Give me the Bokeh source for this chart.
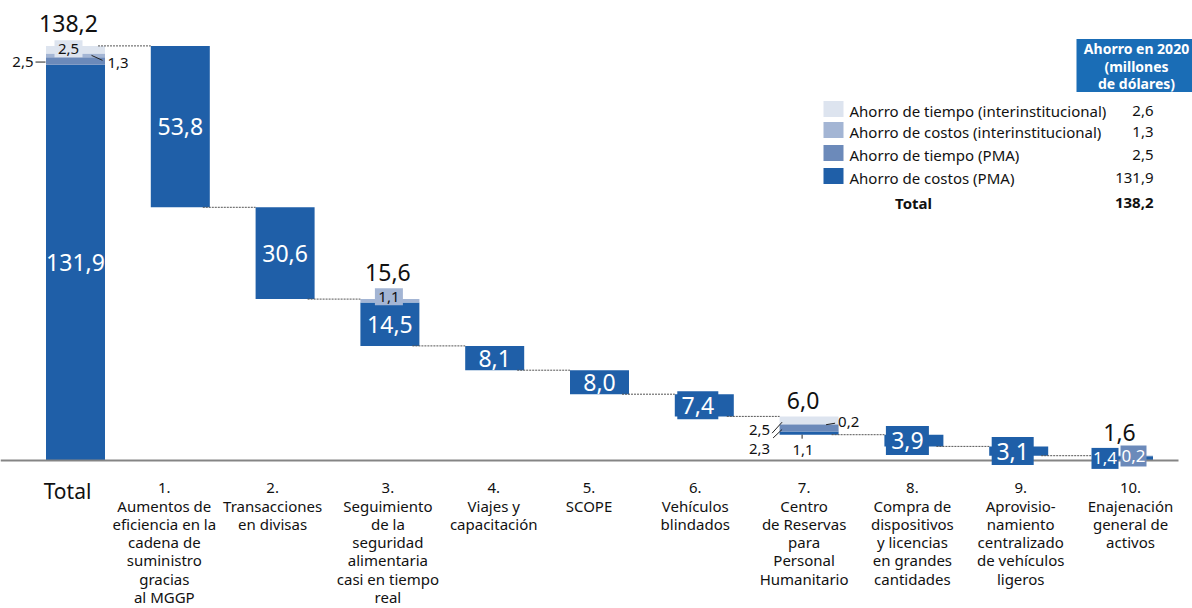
from bokeh.plotting import figure
from bokeh.models import Range1d
from bokeh.embed import file_html
from bokeh.resources import INLINE
from bokeh.core.properties import value

# ---------------- data ----------------
categories = ["Total", "1", "2", "3", "4", "5", "6", "7", "8", "9", "10"]
cat_labels = [
    "Total",
    "1.\nAumentos de\neficiencia en la\ncadena de\nsuministro\ngracias\nal MGGP",
    "2.\nTransacciones\nen divisas",
    "3.\nSeguimiento\nde la\nseguridad\nalimentaria\ncasi en tiempo\nreal",
    "4.\nViajes y\ncapacitación",
    "5.\nSCOPE",
    "6.\nVehículos\nblindados",
    "7.\nCentro\nde Reservas\npara\nPersonal\nHumanitario",
    "8.\nCompra de\ndispositivos\ny licencias\nen grandes\ncantidades",
    "9.\nAprovisio-\nnamiento\ncentralizado\nde vehículos\nligeros",
    "10.\nEnajenación\ngeneral de\nactivos",
]
cost_pma = [131.9, 53.8, 30.6, 14.5, 8.1, 8.0, 7.4, 1.1, 3.9, 3.1, 1.4]
time_pma = [2.5, 0, 0, 0, 0, 0, 0, 2.3, 0, 0, 0.2]
cost_inter = [1.3, 0, 0, 1.1, 0, 0, 0, 0.2, 0, 0, 0]
time_inter = [2.5, 0, 0, 0, 0, 0, 0, 2.5, 0, 0, 0]
shown_totals = [138.2, None, None, 15.6, None, None, None, 6.0, None, None, 1.6]

legend_labels = ["Ahorro de tiempo (interinstitucional)",
                 "Ahorro de costos (interinstitucional)",
                 "Ahorro de tiempo (PMA)",
                 "Ahorro de costos (PMA)"]
legend_values = [2.6, 1.3, 2.5, 131.9]
legend_total = 138.2
legend_header = ["Ahorro en 2020", "(millones", "de dólares)"]

# ---------------- style ----------------
FONT = "Noto Sans"
C_COST_PMA = "#1f5fa8"
C_TIME_PMA = "#6c8aba"
C_COST_INT = "#a3b5d4"
C_TIME_INT = "#dde4ef"
C_HEADER = "#1a6db6"
series = [cost_pma, time_pma, cost_inter, time_inter]
colors = [C_COST_PMA, C_TIME_PMA, C_COST_INT, C_TIME_INT]

W, H = 1192, 608
PX0, PXS = 75.0, 104.8      # pixel of category 0, pixels per category
PY0, PYS = 460.0, 3.0       # pixel of value 0, pixels per unit
BW = 59.0 / PXS


def X(px):
    return (px - PX0) / PXS


def Y(py):
    return (PY0 - py) / PYS


def PX(x):
    return PX0 + x * PXS


def PY(y):
    return PY0 - y * PYS


def fmt(v):
    return f"{v:.1f}".replace(".", ",")


p = figure(width=W, height=H, x_range=Range1d(X(0), X(W)), y_range=Range1d(Y(H), Y(0)),
           output_backend="svg", toolbar_location=None, min_border=0,
           x_axis_location=None, y_axis_location=None, outline_line_color=None)
p.grid.visible = False
p.background_fill_color = "white"
p.border_fill_color = "white"


def txt(xs, ys, texts, size, color="#111111", align="center", bold=False):
    p.text(x=xs, y=ys, text=texts, text_font=value(FONT), text_font_size=value(size),
           text_color=color, text_align=align, text_baseline="middle",
           text_font_style="bold" if bold else "normal")


def box(cx_px, cy_px, w_px, h_px, color):
    p.rect(x=[X(cx_px)], y=[Y(cy_px)], width=w_px / PXS, height=h_px / PYS,
           fill_color=color, line_color=None)


# ---------------- waterfall geometry ----------------
n = len(categories)
sums = [sum(s[i] for s in series) for i in range(n)]
bases = []
levels = []  # level where connector leaves each bar
level = sums[0]
for i in range(n):
    if i == 0:
        bases.append(0.0)
        levels.append(sums[0])
    else:
        b = level - sums[i]
        bases.append(b)
        levels.append(b)
        level = b

seg = []  # seg[i][k] = (bottom, top)
for i in range(n):
    cur = bases[i]
    row = []
    for s in series:
        row.append((cur, cur + s[i]))
        cur += s[i]
    seg.append(row)

# bars
for k, (s, c) in enumerate(zip(series, colors)):
    xs = [i for i in range(n) if s[i] > 0]
    p.vbar(x=xs, bottom=[seg[i][k][0] for i in xs], top=[seg[i][k][1] for i in xs],
           width=BW, fill_color=c, line_color=None)

# connectors
p.segment(x0=[i + BW / 2 - 7 / PXS for i in range(n - 1)], y0=levels[:-1],
          x1=[i + 1 - BW / 2 for i in range(n - 1)], y1=levels[:-1],
          line_color="#555555", line_width=1, line_dash="2 1")

# baseline
p.segment(x0=[X(0)], y0=[0], x1=[X(1178)], y1=[0], line_color="#858585", line_width=2)

# ---------------- value labels ----------------
def segc(i, k):
    return PY((seg[i][k][0] + seg[i][k][1]) / 2)


big = "23px"
boxed = {6: (41, 28, -6.5), 8: (43, 29, -6.5), 9: (42, 28, -6)}
plain_x, plain_y, plain_t = [], [], []
for i in range(n):
    if i in (7, 10):
        continue
    cx = PX(i)
    if i in boxed:
        w, h, off = boxed[i]
        box(cx + off, segc(i, 0), w, h, C_COST_PMA)
        plain_x.append(X(cx + off))
    else:
        plain_x.append(X(cx))
    plain_y.append(Y(segc(i, 0)))
    plain_t.append(fmt(cost_pma[i]))
txt(plain_x, plain_y, plain_t, big, color="white")

# totals above stacked bars
tot_x, tot_y, tot_t = [], [], []
tot_dx = {0: -7, 3: -2, 7: -6, 10: -4}
tot_dy = {0: -22, 3: -26.5, 7: -16, 10: -23}
for i, v in enumerate(shown_totals):
    if v is None:
        continue
    tot_x.append(X(PX(i) + tot_dx[i]))
    tot_y.append(Y(PY(seg[i][3][1]) + tot_dy[i]))
    tot_t.append(fmt(v))
txt(tot_x, tot_y, tot_t, big, color="#111111")

small = "15px"
lead_x0, lead_y0, lead_x1, lead_y1 = [], [], [], []

# Total bar components
cx = PX(0)
c1 = segc(0, 1)
txt([X(cx - 42)], [Y(c1 + 1)], [fmt(time_pma[0])], small, align="right")
lead_x0 += [X(cx - 40)]; lead_y0 += [Y(c1 + 1)]; lead_x1 += [X(cx - 30)]; lead_y1 += [Y(c1 + 1)]
c3 = segc(0, 3)
box(cx - 7, c3 - 1, 28, 17, C_TIME_INT)
txt([X(cx - 7)], [Y(c3 - 1)], [fmt(time_inter[0])], small)
c2 = segc(0, 2)
txt([X(cx + 32)], [Y(c2 + 8)], [fmt(cost_inter[0])], small, align="left")
lead_x0 += [X(cx + 16)]; lead_y0 += [Y(c2)]; lead_x1 += [X(cx + 27)]; lead_y1 += [Y(c2 + 5)]

# item 3
cx = PX(3)
c2 = segc(3, 2)
box(cx - 1, c2 - 4, 28, 17, C_COST_INT)
txt([X(cx - 1)], [Y(c2 - 4)], [fmt(cost_inter[3])], small)

# item 7
cx = PX(7)
c3 = segc(7, 3)
c1 = segc(7, 1)
c2 = segc(7, 2)
bot = PY(seg[7][0][0])
txt([X(cx - 39), X(cx - 39)], [Y(c3 + 10), Y(c1 + 21.5)],
    [fmt(time_inter[7]), fmt(time_pma[7])], small, align="right")
lead_x0 += [X(cx - 37), X(cx - 36)]; lead_y0 += [Y(c3 + 13), Y(c1 + 10)]
lead_x1 += [X(cx - 27), X(cx - 27)]; lead_y1 += [Y(c3 + 2), Y(c1 + 1.5)]
txt([X(cx - 6)], [Y(bot + 15)], [fmt(cost_pma[7])], small)
lead_x0 += [X(cx - 7)]; lead_y0 += [Y(bot)]; lead_x1 += [X(cx - 7)]; lead_y1 += [Y(bot + 4)]
txt([X(cx + 29)], [Y(c2 - 2)], [fmt(cost_inter[7])], small, align="left")
lead_x0 += [X(cx + 17)]; lead_y0 += [Y(c2 + 0.5)]; lead_x1 += [X(cx + 26)]; lead_y1 += [Y(c2 - 1)]

p.segment(x0=lead_x0, y0=lead_y0, x1=lead_x1, y1=lead_y1, line_color="#222222", line_width=1)

# item 10
cx = PX(10)
box(cx - 18.5, segc(10, 0), 27, 21, C_COST_PMA)
box(cx + 10, segc(10, 1), 26, 21, C_TIME_PMA)
txt([X(cx - 18.5), X(cx + 10)], [Y(segc(10, 0)), Y(segc(10, 1))],
    [fmt(cost_pma[10]), fmt(time_pma[10])], "17px", color="white")

# ---------------- category labels ----------------
cat_dx = [-8, -16, -12.5, -2, -1, -10.5, -9, -5, -1.5, 2, 7]
lx, ly, lt = [], [], []
for i, lab in enumerate(cat_labels):
    if i == 0:
        txt([X(PX(0) + cat_dx[0])], [Y(490)], [lab], "21px")
        continue
    for j, line in enumerate(lab.split("\n")):
        lx.append(X(PX(i) + cat_dx[i]))
        ly.append(Y(487 + j * 18.2))
        lt.append(line)
txt(lx, ly, lt, "15px")

# ---------------- legend table ----------------
box(1134, 65, 116, 53, C_HEADER)
txt([X(1136)] * 3, [Y(48), Y(66), Y(83)], legend_header, "14px", color="white", bold=True)

row_y = [110, 131, 154, 177]
for ry, c in zip(row_y, colors[::-1]):
    box(833, ry - 1.5, 20, 16, c)
txt([X(849)] * 4, [Y(r) for r in row_y], legend_labels, "15px", align="left")
txt([X(1153)] * 4, [Y(r) for r in row_y], [fmt(v) for v in legend_values], "15px", align="right")
txt([X(913)], [Y(202)], ["Total"], "15px", bold=True)
txt([X(1153)], [Y(202)], [fmt(legend_total)], "15px", align="right", bold=True)

open("out.html", "w").write(file_html(p, INLINE))
